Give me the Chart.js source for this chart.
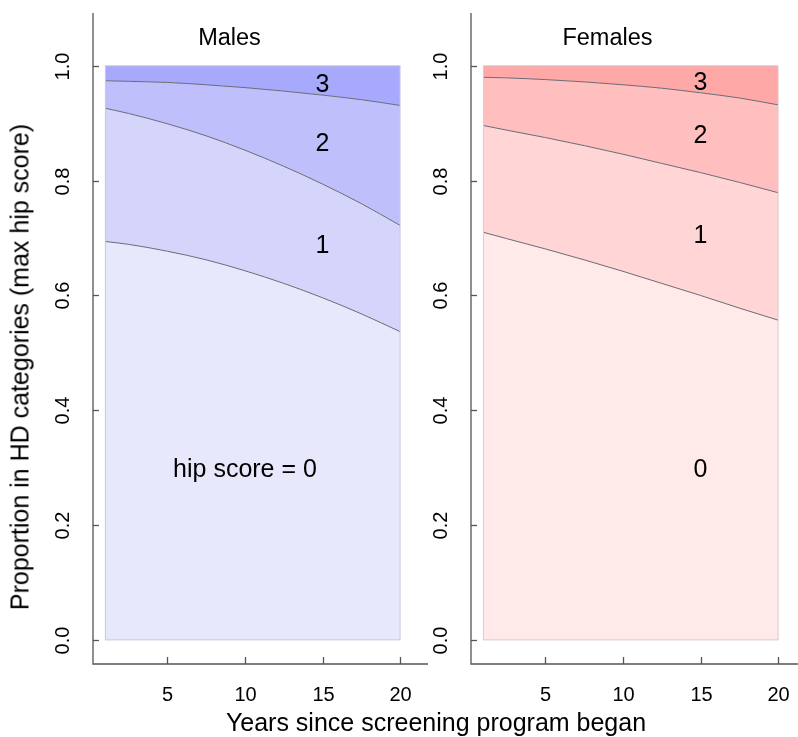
<!DOCTYPE html>
<html lang="en">
<head>
<meta charset="UTF-8" />
<title>Proportion in HD categories</title>
<script src="https://cdn.jsdelivr.net/npm/chart.js"></script>
<style>
  html, body { margin: 0; padding: 0; background: #fff; overflow: hidden; }
  body { width: 798px; height: 737px; position: relative; font-family: "Liberation Sans", Arial, sans-serif; }
  canvas { position: absolute; top: 0; }
  #males { left: 0; }
  #females { left: 415px; }
  .axis-title { position: absolute; font-size: 25px; line-height: 25px; color: #000; white-space: nowrap; }
  #xtitle { left: 436px; top: 710px; transform: translateX(-50%); }
  #ytitle { left: 20px; top: 367px; transform: translate(-50%, -50%) rotate(-90deg); }
</style>
</head>
<body>
  <canvas id="males" width="440" height="737"></canvas>
  <canvas id="females" width="395" height="737"></canvas>
  <div class="axis-title" id="xtitle">Years since screening program began</div>
  <div class="axis-title" id="ytitle">Proportion in HD categories (max hip score)</div>

  <script>
    // years since screening began
    const years = [1, 2.5, 5, 7.5, 10, 12.5, 15, 17.5, 20];

    // cumulative proportions: score 0, score <= 1, score <= 2
    const maleUpTo0 = [0.694, 0.689, 0.677, 0.662, 0.643, 0.621, 0.596, 0.568, 0.537];
    const maleUpTo1 = [0.926, 0.917, 0.899, 0.878, 0.853, 0.825, 0.794, 0.760, 0.722];
    const maleUpTo2 = [0.974, 0.973, 0.971, 0.967, 0.962, 0.956, 0.949, 0.941, 0.931];

    const femaleUpTo0 = [0.710, 0.699, 0.681, 0.662, 0.642, 0.621, 0.600, 0.578, 0.557];
    const femaleUpTo1 = [0.896, 0.888, 0.875, 0.861, 0.846, 0.830, 0.814, 0.797, 0.779];
    const femaleUpTo2 = [0.980, 0.979, 0.976, 0.972, 0.967, 0.961, 0.953, 0.944, 0.932];

    const xTicks = [5, 10, 15, 20];
    const yTicks = [0, 0.2, 0.4, 0.6, 0.8, 1.0];

    const maleLabels = ["hip score = 0", "1", "2", "3"];
    const femaleLabels = ["0", "1", "2", "3"];

    const FONT = '"Liberation Sans", Arial, sans-serif';

    // R-like axes: L-shaped box, inward ticks, rotated y labels, in-panel text
    const rAxes = {
      id: "rAxes",
      afterDraw(chart, args, o) {
        const { ctx, chartArea: a, scales: { x, y } } = chart;
        ctx.save();

        // thin frame round the filled region
        const x1 = x.getPixelForValue(1), x20 = x.getPixelForValue(20);
        const y0 = y.getPixelForValue(0), y1 = y.getPixelForValue(1);
        ctx.strokeStyle = o.frame;
        ctx.lineWidth = 1;
        ctx.strokeRect(x1, y1, x20 - x1, y0 - y1);

        // L box
        ctx.strokeStyle = "#555";
        ctx.lineWidth = 1.3;
        ctx.beginPath();
        ctx.moveTo(a.left, a.top);
        ctx.lineTo(a.left, a.bottom);
        ctx.lineTo(a.right, a.bottom);
        ctx.stroke();

        ctx.fillStyle = "#000";
        ctx.font = "20px " + FONT;

        yTicks.forEach(v => {
          const py = Math.round(y.getPixelForValue(v)) + 0.5;
          ctx.beginPath();
          ctx.moveTo(a.left, py);
          ctx.lineTo(a.left + 6, py);
          ctx.stroke();
          ctx.save();
          ctx.translate(a.left - 24, py);
          ctx.rotate(-Math.PI / 2);
          ctx.textAlign = "center";
          ctx.textBaseline = "alphabetic";
          ctx.fillText(v.toFixed(1), 0, 0);
          ctx.restore();
        });

        xTicks.forEach(v => {
          const px = Math.round(x.getPixelForValue(v)) + 0.5;
          ctx.beginPath();
          ctx.moveTo(px, a.bottom);
          ctx.lineTo(px, a.bottom - 7);
          ctx.stroke();
          ctx.textAlign = "center";
          ctx.textBaseline = "alphabetic";
          ctx.fillText(String(v), px, a.bottom + 37);
        });

        // panel title and category labels
        ctx.font = "23.5px " + FONT;
        ctx.textAlign = "center";
        ctx.fillText(o.title, x.getPixelForValue(9), y.getPixelForValue(1.05) + 8);

        ctx.font = "25px " + FONT;
        o.labels.forEach((t, i) => {
          const p = o.labelAt[i];
          ctx.fillText(t, x.getPixelForValue(p[0]), y.getPixelForValue(p[1]) + 9);
        });

        ctx.restore();
      }
    };

    function pts(vals) {
      return years.map((yr, i) => ({ x: yr, y: vals[i] }));
    }

    function panel(id, up0, up1, up2, fills, frame, title, labels, labelAt, pad) {
      const top = years.map(() => 1);
      const datasets = [up0, up1, up2, top].map((v, i) => ({
        data: pts(v),
        fill: i === 0 ? "origin" : "-1",
        backgroundColor: fills[i],
        borderColor: i < 3 ? "#6a6a76" : "rgba(0,0,0,0)",
        borderWidth: 1,
        pointRadius: 0,
        cubicInterpolationMode: "monotone"
      }));

      new Chart(document.getElementById(id), {
        type: "line",
        data: { datasets },
        options: {
          responsive: false,
          animation: false,
          layout: { padding: pad },
          scales: {
            x: { type: "linear", min: 0.2, max: 21.8, display: false },
            y: { type: "linear", min: -0.042, max: 1.092, display: false }
          },
          plugins: {
            legend: { display: false },
            tooltip: { enabled: false },
            rAxes: { frame, title, labels, labelAt }
          }
        },
        plugins: [rAxes]
      });
    }

    panel("males", maleUpTo0, maleUpTo1, maleUpTo2,
      ["#e8e8fc", "#d5d5fb", "#bfc0fb", "#a7a9fc"], "#c9c9dd",
      "Males", maleLabels,
      [[10, 0.30], [15, 0.689], [15, 0.867], [15, 0.970]],
      { left: 93, top: 13, right: 12, bottom: 73 });

    panel("females", femaleUpTo0, femaleUpTo1, femaleUpTo2,
      ["#ffe9e9", "#ffd5d5", "#ffbfbf", "#ffa8a8"], "#ddc9c9",
      "Females", femaleLabels,
      [[15, 0.30], [15, 0.707], [15, 0.881], [15, 0.974]],
      { left: 56, top: 13, right: 4, bottom: 73 });
  </script>
</body>
</html>
